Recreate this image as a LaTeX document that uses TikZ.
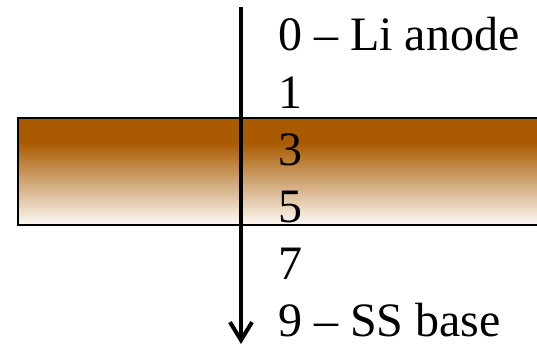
\documentclass[tikz,border=0pt]{standalone}
\usepackage{fontspec}
\setmainfont{Liberation Serif}
\usetikzlibrary{arrows.meta}
\definecolor{layerbrown}{RGB}{170,90,0}
\tikzset{
  depth-label/.style={
    anchor=base west,
    inner sep=0pt,
    font=\fontsize{48}{56}\selectfont
  },
  layer-box/.style={draw=black, line width=1.5pt},
  probe/.style={
    line width=4pt,
    -{Straight Barb[length=18pt,width=22pt]}
  }
}

\begin{document}
\begin{tikzpicture}[x=1pt,y=1pt]
  \useasboundingbox (0,0) rectangle (537,346);
  \clip (0,0) rectangle (537,346);
  % sandwich layer, solid on top then fading out
  \fill[layerbrown] (18,203) rectangle (545,228);
  \shade[top color=layerbrown, bottom color=layerbrown!3] (18,121) rectangle (545,203.5);
  \draw[layer-box] (18,121) rectangle (545,228);
  \coordinate (probe-top) at (241,339);
  \coordinate (probe-end) at (241,2);
  \draw[probe] (probe-top) -- (probe-end);
  \foreach \i/\txt [count=\k from 0] in {0/{0 -- Li anode},1/1,3/3,5/5,7/7,9/{9 -- SS base}}
    \node[depth-label] (depth-\i) at (278,295-57*\k) {\txt};
\end{tikzpicture}
\end{document}
